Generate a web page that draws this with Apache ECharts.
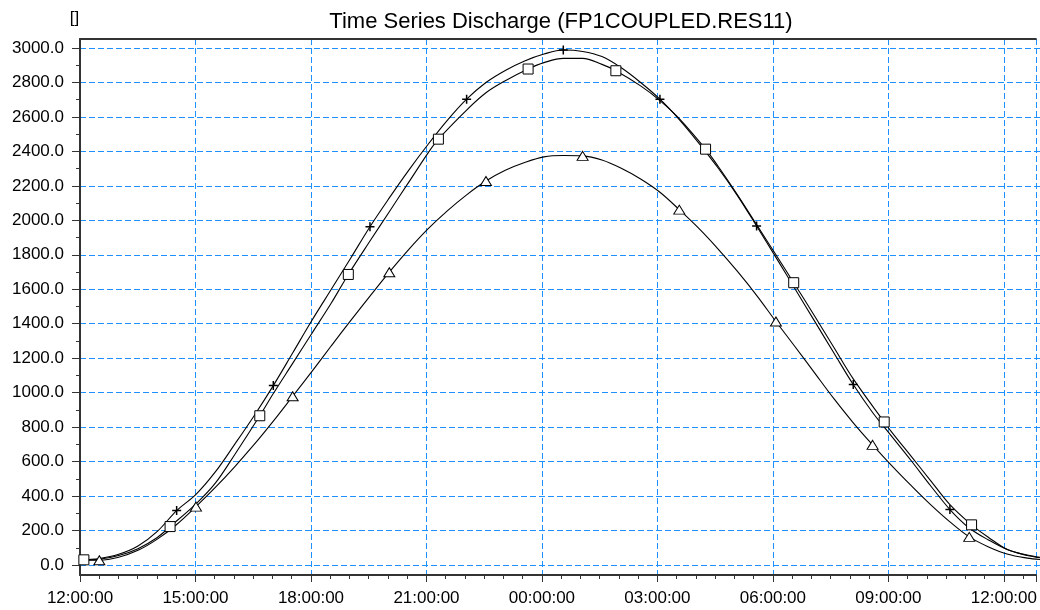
<!DOCTYPE html>
<html>
<head>
<meta charset="utf-8">
<script src="https://cdn.jsdelivr.net/npm/echarts@6/dist/echarts.min.js"></script>
<style>
html, body { margin: 0; padding: 0; background: #ffffff; }
#chart { width: 1040px; height: 610px; }
</style>
</head>
<body>
<div id="chart"></div>
<script>
// ---------- text ----------
const chartTitle = 'Time Series Discharge (FP1COUPLED.RES11)';
const yAxisName = '[]';

// ---------- ticks ----------
// x values are hours after 12:00:00 on the first day
const xMaxHours = 24.83;
const xTickLabels = ['12:00:00', '15:00:00', '18:00:00', '21:00:00', '00:00:00', '03:00:00', '06:00:00', '09:00:00', '12:00:00'];
const yTickLabels = ['0.0', '200.0', '400.0', '600.0', '800.0', '1000.0', '1200.0', '1400.0', '1600.0', '1800.0', '2000.0', '2200.0', '2400.0', '2600.0', '2800.0', '3000.0'];

// ---------- series: plus markers ----------
const plusHours  = [0, 0.5, 1, 1.5, 2, 2.5, 3, 3.5, 4, 4.5, 5, 5.5, 6, 6.5, 7, 7.5, 8, 8.5, 9, 9.5, 10, 10.5, 11, 11.5, 12, 12.5, 13, 13.5, 14, 14.5, 15, 15.5, 16, 16.5, 17, 17.5, 18, 18.5, 19, 19.5, 20, 20.5, 21, 21.5, 22, 22.5, 23, 23.5, 24, 24.5, 24.83];
const plusValues = [30, 38, 62, 110, 195, 316, 410, 540, 700, 865, 1041, 1230, 1420, 1600, 1780, 1963, 2130, 2290, 2440, 2580, 2703, 2800, 2870, 2925, 2965, 2988, 2980, 2950, 2885, 2800, 2703, 2585, 2450, 2305, 2145, 1967, 1785, 1600, 1415, 1230, 1047, 885, 745, 605, 460, 322, 215, 145, 88, 55, 42];
const plusMarkerHours = [2.5, 5, 7.5, 10, 12.5, 15, 17.5, 20, 22.5];

// ---------- series: square markers ----------
const squareHours  = [0.1, 0.5, 1, 1.5, 2, 2.33, 3, 3.5, 4, 4.65, 5, 5.5, 6, 6.5, 6.94, 7.5, 8, 8.5, 9, 9.27, 10, 10.5, 11, 11.59, 12, 12.5, 13, 13.5, 13.86, 14.5, 15, 15.5, 16.18, 16.5, 17, 17.5, 18, 18.46, 19, 19.5, 20, 20.8, 21, 21.5, 22, 22.5, 23.06, 23.5, 24, 24.5, 24.83];
const squareValues = [30, 33, 55, 95, 160, 223, 355, 475, 640, 866, 995, 1170, 1345, 1520, 1686, 1880, 2050, 2220, 2390, 2471, 2640, 2740, 2810, 2878, 2915, 2940, 2940, 2905, 2868, 2780, 2695, 2590, 2413, 2315, 2150, 1975, 1800, 1638, 1445, 1262, 1080, 830, 770, 630, 490, 350, 233, 160, 88, 58, 45];
const squareMarkerHours = [0.1, 2.33, 4.65, 6.94, 9.27, 11.59, 13.86, 16.18, 18.46, 20.8, 23.06];

// ---------- series: triangle markers ----------
const triangleHours  = [0, 0.5, 1, 1.5, 2, 2.5, 3, 3.5, 4, 4.5, 5, 5.5, 6, 6.5, 7, 7.5, 8, 8.5, 9, 9.5, 10, 10.5, 11, 11.5, 12, 12.5, 13, 13.5, 14, 14.5, 15, 15.5, 16, 16.5, 17, 17.5, 18, 18.5, 19, 19.5, 20, 20.5, 21, 21.5, 22, 22.5, 23, 23.5, 24, 24.5, 24.83];
const triangleValues = [28, 28, 45, 85, 150, 235, 339, 450, 570, 698, 835, 979, 1124, 1272, 1418, 1560, 1699, 1830, 1950, 2055, 2148, 2228, 2290, 2335, 2368, 2376, 2374, 2350, 2302, 2240, 2163, 2062, 1955, 1835, 1705, 1565, 1413, 1265, 1115, 965, 825, 697, 575, 460, 350, 250, 163, 105, 62, 40, 32];
const triangleMarkerHours = [0.5, 3, 5.5, 8, 10.5, 13, 15.5, 18, 20.5, 23];

// ---------- build ----------
const FONT = '"Liberation Sans", Arial, sans-serif';
const GRID_BLUE = '#1E90FF';
const AXIS_DARK = '#333333';

function pairs(hours, values) {
  return hours.map((h, i) => [h, values[i]]);
}
function markerSymbol(markerHours, shape) {
  return function (value) {
    return markerHours.some(m => Math.abs(m - value[0]) < 1e-6) ? shape : 'none';
  };
}
function xLabel(v) {
  const i = Math.round(v / 3);
  return Math.abs(v - i * 3) < 1e-6 && xTickLabels[i] !== undefined ? xTickLabels[i] : '';
}
function yLabel(v) {
  const i = Math.round(v / 200);
  return yTickLabels[i] !== undefined ? yTickLabels[i] : '';
}

const lineBase = {
  type: 'line',
  xAxisIndex: 0,
  yAxisIndex: 0,
  smooth: 0.35,
  showSymbol: true,
  clip: false,
  silent: true,
  lineStyle: { color: '#000000', width: 1.1 },
  emphasis: { disabled: true }
};

const chart = echarts.init(document.getElementById('chart'), null, { renderer: 'canvas' });

chart.setOption({
  animation: false,
  backgroundColor: '#ffffff',
  textStyle: { fontFamily: FONT },
  graphic: [{
    type: 'text',
    x: 561,
    y: 22,
    style: {
      text: chartTitle,
      font: '22px ' + FONT,
      fill: '#000000',
      align: 'center',
      verticalAlign: 'middle',
      textAlign: 'center',
      textVerticalAlign: 'middle'
    }
  }],
  grid: [
    { left: 80, right: 0, top: 48, bottom: 45 },   // 0 .. 3000 data area
    { left: 80, right: 0, top: 39, bottom: 35 }    // full plot frame
  ],
  xAxis: [
    { // data axis (hidden)
      type: 'value', gridIndex: 0, min: 0, max: xMaxHours, show: false
    },
    { // visible bottom time axis
      type: 'value', gridIndex: 1, position: 'bottom', min: 0, max: xMaxHours, interval: 3,
      axisLine: { show: true, lineStyle: { color: AXIS_DARK, width: 2 } },
      axisTick: { show: true, length: 7, lineStyle: { color: AXIS_DARK, width: 1 } },
      minorTick: { show: true, splitNumber: 6, length: 4, lineStyle: { color: AXIS_DARK, width: 1 } },
      axisLabel: { formatter: xLabel, fontSize: 17, color: '#000000', margin: 15, fontFamily: FONT, showMaxLabel: false, hideOverlap: false },
      splitLine: { show: true, lineStyle: { color: GRID_BLUE, width: 1, type: [6, 3] } }
    },
    { // top frame line
      type: 'value', gridIndex: 1, position: 'top', min: 0, max: xMaxHours,
      axisLine: { show: true, lineStyle: { color: AXIS_DARK, width: 2 } },
      axisTick: { show: false }, axisLabel: { show: false }, splitLine: { show: false }
    }
  ],
  yAxis: [
    {
      type: 'value', gridIndex: 0, min: 0, max: 3000, interval: 200,
      name: yAxisName, nameLocation: 'end', nameGap: 21,
      nameTextStyle: { fontSize: 17, color: '#000000', fontFamily: FONT, padding: [0, 11, 0, 0] },
      axisLine: { show: false },
      axisTick: { show: true, length: 8, lineStyle: { color: AXIS_DARK, width: 1 } },
      minorTick: { show: true, splitNumber: 2, length: 4, lineStyle: { color: AXIS_DARK, width: 1 } },
      axisLabel: { formatter: yLabel, fontSize: 17, color: '#000000', margin: 16, fontFamily: FONT },
      splitLine: { show: true, lineStyle: { color: GRID_BLUE, width: 1, type: [6, 3] } }
    },
    { // left frame line
      type: 'value', gridIndex: 1, min: 0, max: 1,
      axisLine: { show: true, lineStyle: { color: AXIS_DARK, width: 2 } },
      axisTick: { show: false }, axisLabel: { show: false }, splitLine: { show: false }
    }
  ],
  series: [
    Object.assign({}, lineBase, {
      name: 'Triangle',
      data: pairs(triangleHours, triangleValues),
      symbol: markerSymbol(triangleMarkerHours, 'triangle'),
      symbolSize: [11, 9],
      itemStyle: { color: '#ffffff', borderColor: '#000000', borderWidth: 1 }
    }),
    Object.assign({}, lineBase, {
      name: 'Square',
      data: pairs(squareHours, squareValues),
      symbol: markerSymbol(squareMarkerHours, 'rect'),
      symbolSize: 10,
      itemStyle: { color: '#ffffff', borderColor: '#000000', borderWidth: 1 }
    }),
    Object.assign({}, lineBase, {
      name: 'Plus',
      data: pairs(plusHours, plusValues),
      symbol: markerSymbol(plusMarkerHours, 'path://M5,0L5,10M0,5L10,5'),
      symbolSize: 9,
      itemStyle: { color: 'none', borderColor: '#000000', borderWidth: 1.5 }
    })
  ]
});
</script>
</body>
</html>
